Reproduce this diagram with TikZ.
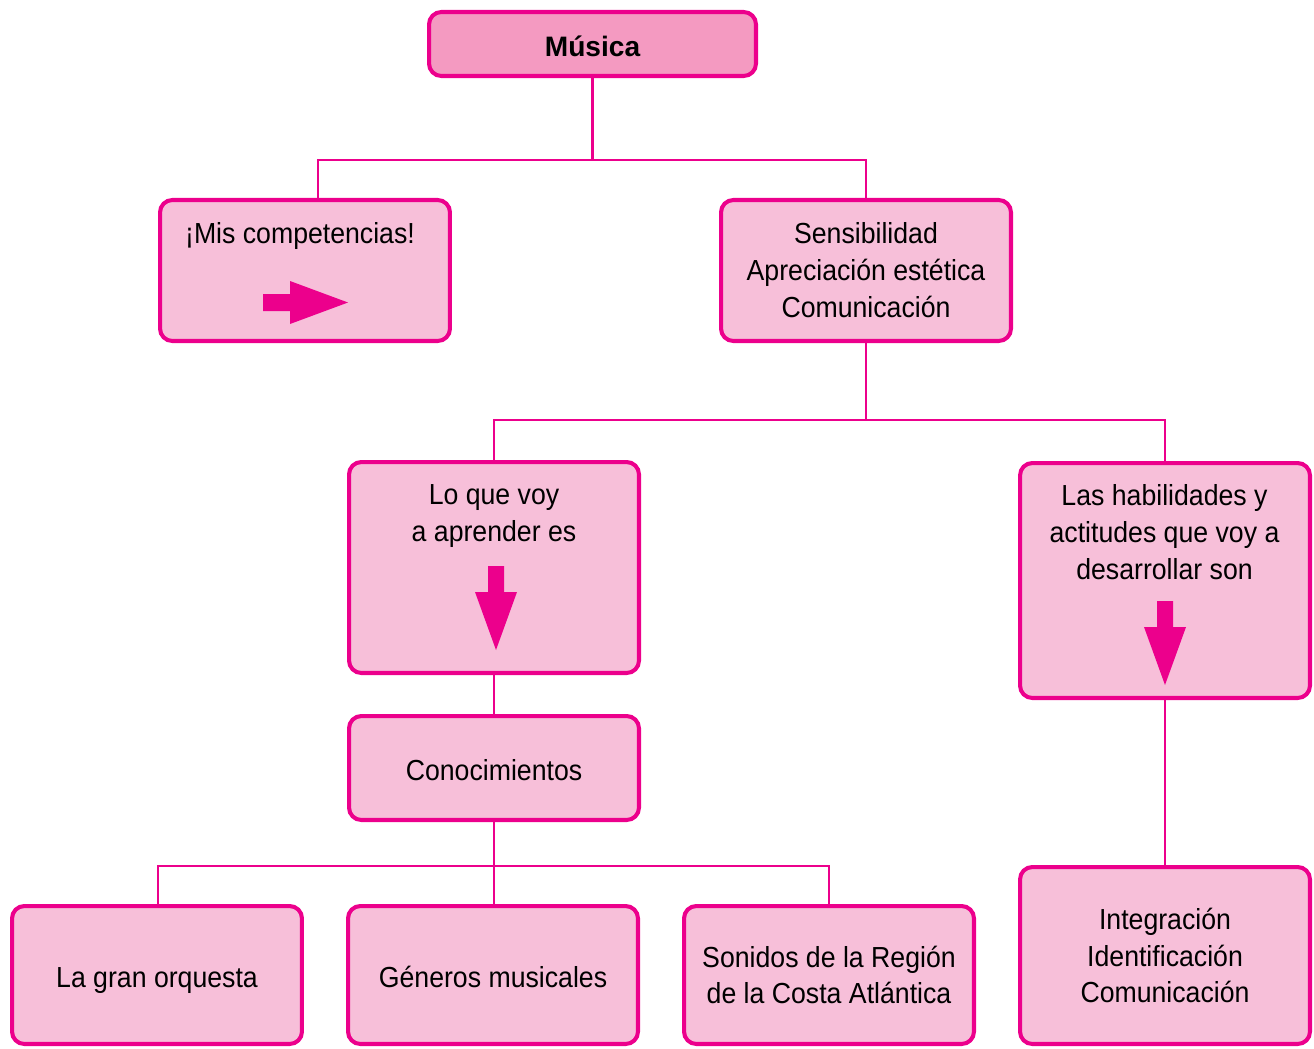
\documentclass[tikz,border=0pt]{standalone}
\usepackage{fontspec}
\setmainfont{Liberation Sans}[FakeStretch=0.92]
\newfontfamily\titulofont{Liberation Sans}
\definecolor{rosaBorde}{HTML}{EC008C}
\definecolor{rosaFondo}{HTML}{F7BFD9}
\definecolor{rosaTitulo}{HTML}{F49AC1}

\begin{document}
\begin{tikzpicture}[x=0.02cm, y=-0.02cm,
    caja/.style={draw=rosaBorde, line width=2.3pt, fill=rosaFondo, rounded corners=7pt,
        minimum width=5.8cm, align=center, inner sep=0pt, font=\fontsize{16.5}{21}\selectfont},
    unalinea/.style={text height=15pt, text depth=1pt},
    texto/.style={align=center, inner sep=0pt, font=\fontsize{16.5}{21}\selectfont},
    linea/.style={draw=rosaBorde, line width=1.4pt},
    flecha/.style={fill=rosaBorde}]
    \useasboundingbox (0,0) rectangle (1314,1048);

    % Cajas
    \node[caja, unalinea, fill=rosaTitulo, minimum width=6.54cm, minimum height=1.28cm, font=\titulofont\fontsize{16}{21}\selectfont\bfseries] (musica) at (592.5,44) {Música};
    \node[caja, minimum height=2.82cm] (mis) at (305,270.5) {};
    \node[caja, minimum height=2.82cm] (sens) at (866,270.5) {Sensibilidad\\Apreciación estética\\Comunicación};
    \node[caja, minimum height=4.22cm] (aprender) at (494,567.5) {};
    \node[caja, minimum height=4.7cm] (habil) at (1165,580.5) {};
    \node[caja, unalinea, minimum height=2.08cm] (conoc) at (494,768) {Conocimientos};
    \node[caja, unalinea, minimum height=2.76cm] (orquesta) at (157,975) {La gran orquesta};
    \node[caja, unalinea, minimum height=2.76cm] (generos) at (493,975) {Géneros musicales};
    \node[caja, minimum height=2.76cm] (sonidos) at (829,975) {Sonidos de la Región\\de la Costa Atlántica};
    \node[caja, minimum height=3.54cm] (integ) at (1165,955.5) {Integración\\Identificación\\Comunicación};

    % Textos de arriba
    \node[texto] (misTxt) at (300,236) {¡Mis competencias!};
    \node[texto] (aprenderTxt) at (494,516) {Lo que voy\\a aprender es};
    \node[texto] (habilTxt) at (1164.5,532) {Las habilidades y\\actitudes que voy a\\desarrollar son};

    % Flechas gruesas
    \fill[flecha] (263,294) -- (290,294) -- (290,281) -- (348,302.5) -- (290,324) -- (290,311) -- (263,311) -- cycle;
    \fill[flecha] (488,566) -- (504,566) -- (504,592) -- (517,592) -- (496,650) -- (475,592) -- (488,592) -- cycle;
    \fill[flecha] (1157,601) -- (1173,601) -- (1173,627) -- (1186,627) -- (1165,685) -- (1144,627) -- (1157,627) -- cycle;

    % Verbindungen
    \coordinate (r1) at (592.5,160);
    \coordinate (r2) at (866,420);
    \coordinate (r3) at (494,866);
    \draw[linea] (musica.south) -- (r1);
    \draw[linea] ([xshift=0.26cm]mis.north) |- (r1) -| (sens.north);
    \draw[linea] (sens.south) -- (r2);
    \draw[linea] (aprender.north) |- (r2) -| (habil.north);
    \draw[linea] (aprender.south) -- (conoc.north);
    \draw[linea] (conoc.south) -- (r3);
    \draw[linea] ([xshift=0.02cm]orquesta.north) |- (r3) -| (sonidos.north);
    \draw[linea] (r3) -- (generos.north -| r3);
    \draw[linea] (habil.south) -- (integ.north);
\end{tikzpicture}
\end{document}
